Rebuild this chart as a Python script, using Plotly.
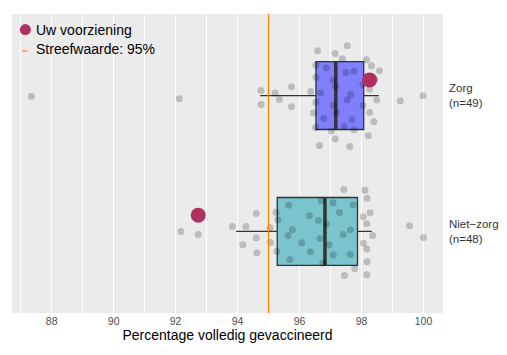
import plotly.graph_objects as go

# ---------------- data ----------------
groups = ["Zorg", "Niet-zorg"]
group_labels = ["Zorg<br>(n=49)", "Niet\u2212zorg<br>(n=48)"]
group_pos = [0, 1]

# box statistics per group
q1 = [96.53, 95.28]
median = [97.17, 96.82]
q3 = [98.07, 97.87]
lower_whisker = [94.73, 93.95]
upper_whisker = [98.56, 98.33]

# individual organisations (value, vertical jitter)
zorg_values = [94.75, 94.76, 95.21, 95.35, 95.74, 95.74, 96.58, 96.36, 96.53, 96.53,
               96.53, 96.45, 96.52, 96.64, 96.86, 96.68, 96.78, 97.03, 97.15, 97.08,
               97.16, 97.09, 97.19, 97.15, 97.38, 97.54, 97.50, 97.75, 97.65, 97.54,
               97.69, 97.44, 97.76, 97.62, 98.16, 98.32, 98.58, 98.04, 98.26, 98.49,
               98.05, 98.26, 98.40, 98.22, 99.25, 99.99, 87.35, 92.12, 98.43]
zorg_jitter = [-0.037, 0.066, -0.018, 0.029, -0.064, 0.083, -0.329, -0.029, -0.224, -0.135,
               0.050, 0.129, 0.235, 0.368, -0.204, -0.020, 0.169, 0.261, -0.310, -0.115,
               -0.068, 0.074, 0.126, 0.320, -0.270, -0.366, -0.169, -0.179, -0.007, 0.031,
               0.176, 0.226, 0.251, 0.374, -0.263, -0.219, -0.182, -0.082, -0.046, 0.032,
               0.074, 0.125, 0.193, 0.296, 0.039, 0.002, 0.005, 0.024, -0.120]

nietzorg_values = [92.17, 92.73, 93.83, 94.27, 94.60, 94.60, 94.17, 94.62, 95.05, 95.06,
                   95.24, 95.30, 95.27, 95.65, 95.77, 95.63, 95.69, 96.07, 96.32, 96.35,
                   96.61, 96.70, 96.66, 96.75, 96.87, 96.95, 97.08, 97.29, 97.09, 97.41,
                   97.43, 97.64, 97.64, 97.73, 98.11, 98.18, 98.28, 98.06, 98.17, 98.36,
                   98.06, 98.17, 98.18, 97.78, 98.17, 97.45, 99.55, 100.00]
nietzorg_jitter = [0.000, 0.022, -0.037, -0.037, -0.132, 0.046, 0.098, 0.157, -0.027, 0.081,
                   -0.142, -0.086, 0.145, -0.193, -0.012, 0.029, 0.206, 0.083, -0.115, 0.149,
                   -0.081, -0.226, 0.051, 0.233, -0.054, 0.098, -0.211, -0.140, 0.174, 0.022,
                   -0.309, -0.012, 0.169, -0.196, -0.304, -0.245, -0.137, -0.108, -0.057, 0.029,
                   0.086, 0.130, 0.223, 0.274, 0.318, 0.324, -0.042, 0.044]

# "Uw voorziening" (own facility)
own_values = [98.26, 92.73]
own_jitter = [-0.115, -0.12]

target = 95
target_label = "Streefwaarde: 95%"
x_title = "Percentage volledig gevaccineerd"
x_ticks = [88, 90, 92, 94, 96, 98, 100]

# ---------------- styles ----------------
box_colors = ["#8080FF", "#7AC5CD"]
dark = "#333333"
FONT = "Liberation Sans, Arial, sans-serif"

fig = go.Figure()

point_sets = [(zorg_values, zorg_jitter), (nietzorg_values, nietzorg_jitter)]

for i, g in enumerate(groups):
    fig.add_trace(go.Box(
        orientation="h", y=[group_pos[i]],
        q1=[q1[i]], median=[median[i]], q3=[q3[i]],
        lowerfence=[lower_whisker[i]], upperfence=[upper_whisker[i]],
        width=0.5, whiskerwidth=0, boxpoints=False,
        fillcolor=box_colors[i], line=dict(color=dark, width=1.3),
        showlegend=False, hoverinfo="skip", name=g))
    # thick median line
    fig.add_trace(go.Scatter(
        x=[median[i], median[i]], y=[group_pos[i] - 0.25, group_pos[i] + 0.25],
        mode="lines", line=dict(color=dark, width=3.5),
        showlegend=False, hoverinfo="skip"))

for i, (vals, jit) in enumerate(point_sets):
    fig.add_trace(go.Scatter(
        x=vals, y=[group_pos[i] + j for j in jit], mode="markers",
        marker=dict(size=7, color="rgba(0,0,0,0.2)", line=dict(width=0)),
        showlegend=False, hoverinfo="x"))

fig.add_trace(go.Scatter(
    x=own_values, y=[p + j for p, j in zip(group_pos, own_jitter)], mode="markers",
    marker=dict(size=15, color="#B03060", line=dict(width=0)),
    showlegend=False, name="Uw voorziening"))

# target line
fig.add_shape(type="line", x0=target, x1=target, y0=0, y1=1, xref="x", yref="paper",
              line=dict(color="#FF7F00", width=1.2), layer="above")

# right-hand category labels
for i, lab in enumerate(group_labels):
    fig.add_annotation(x=1, xref="paper", y=group_pos[i], yref="y", text=lab,
                       xanchor="left", yanchor="middle", align="left", xshift=4,
                       showarrow=False, font=dict(family=FONT, size=11.5, color="#333333"))

# manual legend
fig.add_shape(type="circle", xref="paper", yref="paper", xsizemode="pixel", ysizemode="pixel",
              xanchor=0.031, yanchor=0.948, x0=-5.5, x1=5.5, y0=-5.5, y1=5.5,
              fillcolor="#B03060", line=dict(width=0))
fig.add_shape(type="line", xref="paper", yref="paper", xsizemode="pixel", ysizemode="pixel",
              xanchor=0.031, yanchor=0.876, x0=-3, x1=2, y0=0, y1=0,
              line=dict(color="#FF7F00", width=1.2))
fig.add_annotation(x=0.052, y=0.948, xref="paper", yref="paper", text="Uw voorziening",
                   xanchor="left", yanchor="middle", showarrow=False,
                   font=dict(family=FONT, size=14, color="black"))
fig.add_annotation(x=0.052, y=0.882, xref="paper", yref="paper", text=target_label,
                   xanchor="left", yanchor="middle", showarrow=False,
                   font=dict(family=FONT, size=14, color="black"))

fig.update_layout(
    width=499, height=347,
    margin=dict(l=4, r=64, t=6, b=42),
    paper_bgcolor="white", plot_bgcolor="#EBEBEB",
    font=dict(family=FONT),
    showlegend=False,
    xaxis=dict(range=[86.72, 100.63], tickvals=x_ticks, showgrid=True,
               gridcolor="white", gridwidth=1.2, zeroline=False, ticks="",
               showline=False,
               tickfont=dict(size=10.5, color="#4D4D4D"),
               minor=dict(dtick=1, tick0=87, showgrid=True, gridcolor="white", gridwidth=1.2),
               title=dict(text=x_title, font=dict(size=14, color="black"), standoff=4)),
    yaxis=dict(range=[1.6, -0.6], showgrid=False, zeroline=False, showticklabels=False,
               ticks="", showline=False),
)

fig.write_html("out.html")
